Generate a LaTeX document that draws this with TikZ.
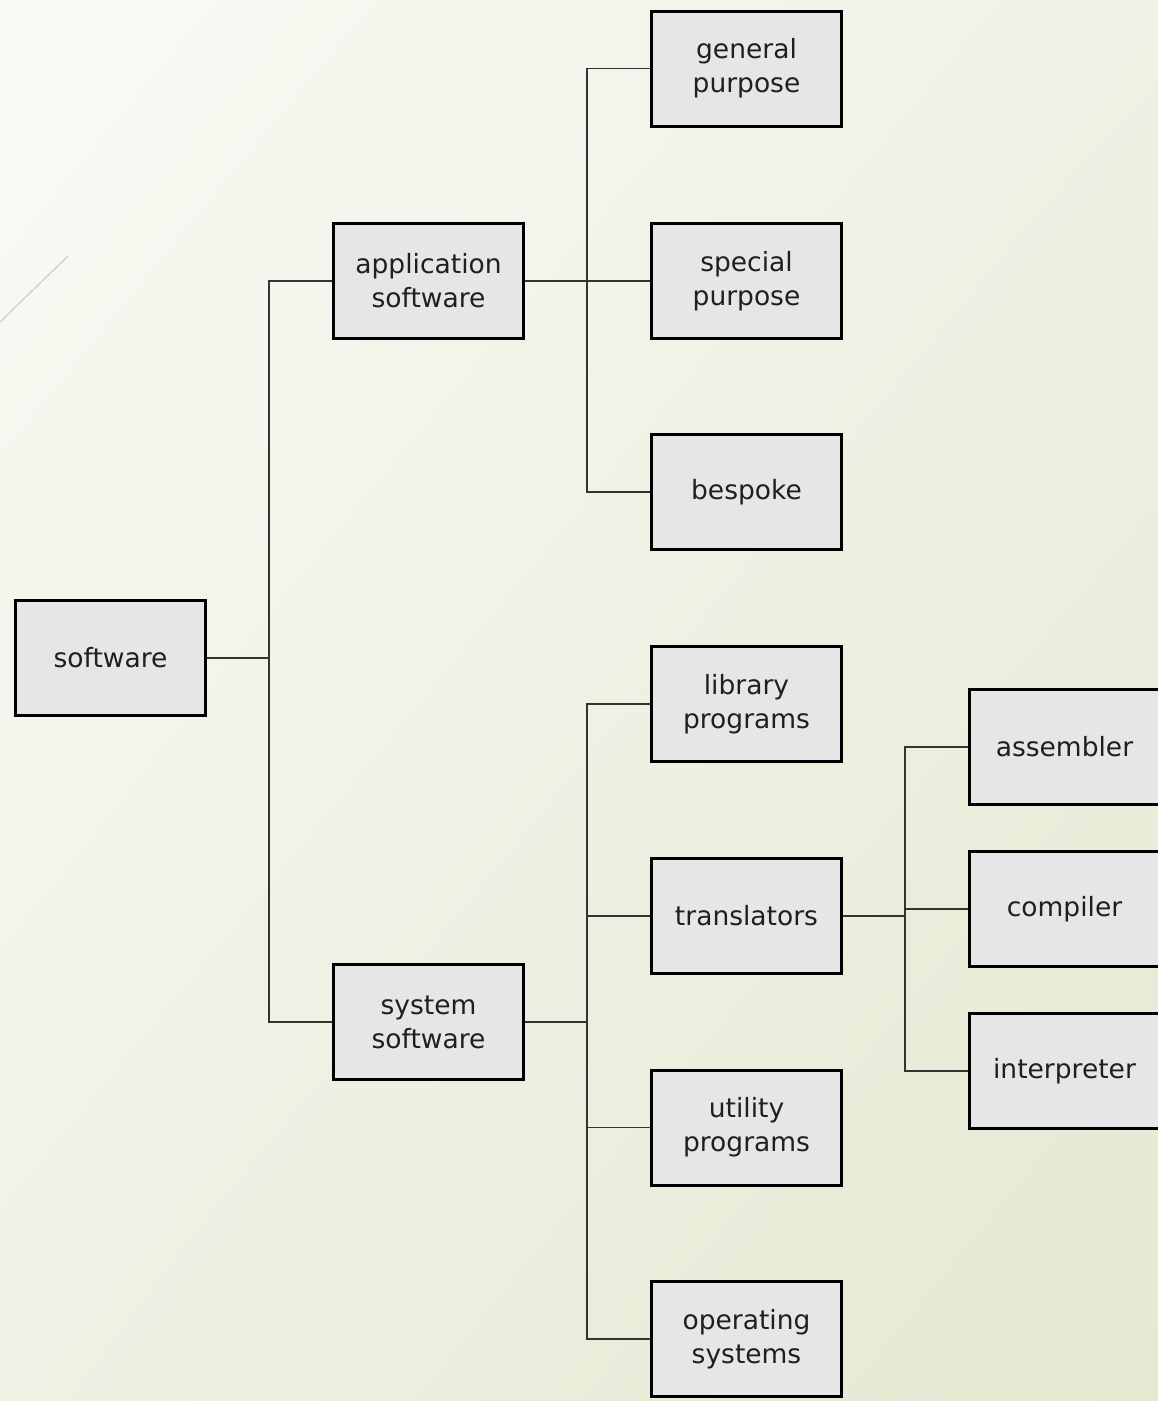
\documentclass[tikz,border=0pt]{standalone}
\usepackage{fontspec}
\setmainfont{DejaVu Sans}
\usetikzlibrary{shadings}
\definecolor{bgA}{HTML}{F9FAF5}
\definecolor{bgB}{HTML}{E3E9D2}
\definecolor{bgM}{HTML}{EEF2E4}
\definecolor{boxfill}{HTML}{E6E6E6}
\definecolor{linec}{HTML}{333333}
\begin{document}
\begin{tikzpicture}[x=1pt,y=-1pt,
  box/.style={draw=black, line width=3pt, fill=boxfill, minimum width=190pt, minimum height=115pt,
    align=center, inner sep=0pt, text=black!88, font=\fontsize{26.5}{34}\selectfont},
  conn/.style={draw=linec, line width=1.5pt}]
\useasboundingbox (0,0) rectangle (1158,1401);
\shade[upper left=bgA, lower right=bgB, upper right=bgM, lower left=bgM] (0,0) rectangle (1158,1401);
\draw[black!22, line width=1pt] (0,322) -- (68,256);

\node[box] (sw) at (110.5,658) {software};
\node[box] (app) at (428.5,281) {application\\software};
\node[box] (sys) at (428.5,1022) {system\\software};
\node[box] (gp) at (746.5,68.5) {general\\purpose};
\node[box] (sp) at (746.5,281) {special\\purpose};
\node[box] (bs) at (746.5,492) {bespoke};
\node[box] (lib) at (746.5,704) {library\\programs};
\node[box] (tr) at (746.5,916) {translators};
\node[box] (ut) at (746.5,1127.5) {utility\\programs};
\node[box] (os) at (746.5,1339) {operating\\systems};
\node[box] (as) at (1064.5,747) {assembler};
\node[box] (co) at (1064.5,909) {compiler};
\node[box] (in) at (1064.5,1071) {interpreter};

\draw[conn] (sw.east) -- ++(62,0) |- (app.west);
\draw[conn] (sw.east) -- ++(62,0) |- (sys.west);
\draw[conn] (app.east) -- ++(62,0) |- (gp.west);
\draw[conn] (app.east) -- (sp.west);
\draw[conn] (app.east) -- ++(62,0) |- (bs.west);
\draw[conn] (sys.east) -- ++(62,0) |- (lib.west);
\draw[conn] (sys.east) -- ++(62,0) |- (tr.west);
\draw[conn] (sys.east) -- ++(62,0) |- (ut.west);
\draw[conn] (sys.east) -- ++(62,0) |- (os.west);
\draw[conn] (tr.east) -- ++(62,0) |- (as.west);
\draw[conn] (tr.east) -- ++(62,0) |- (co.west);
\draw[conn] (tr.east) -- ++(62,0) |- (in.west);
\end{tikzpicture}
\end{document}
